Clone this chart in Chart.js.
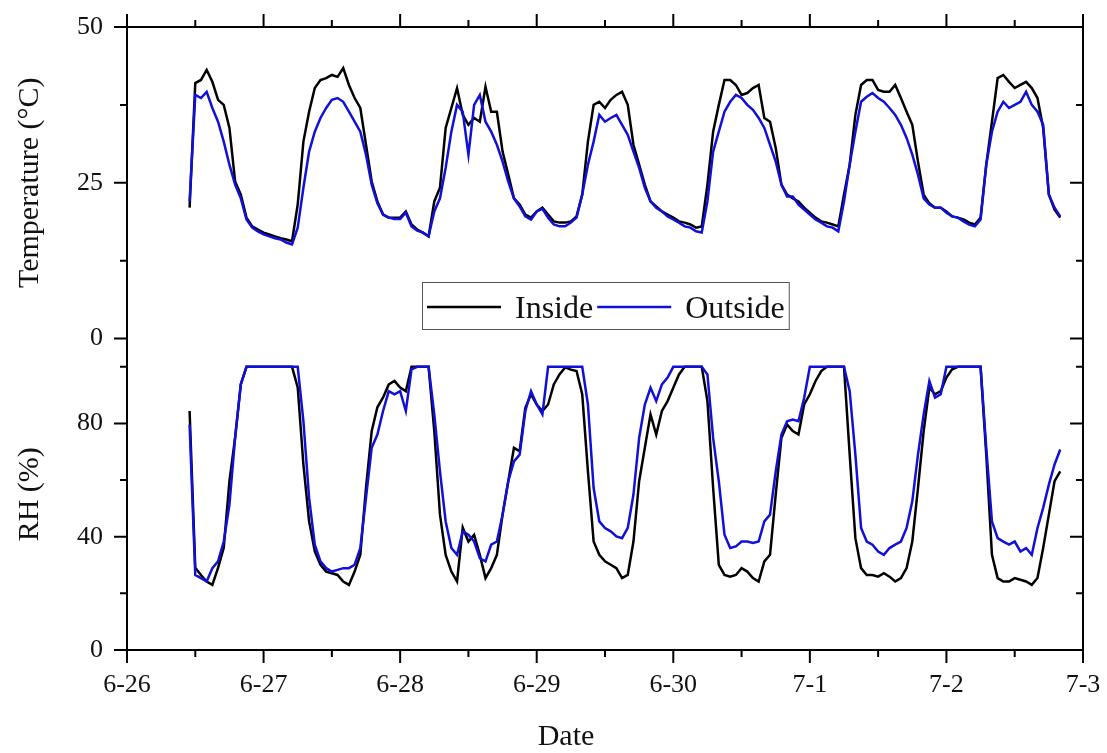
<!DOCTYPE html>
<html>
<head>
<meta charset="utf-8">
<title>Temperature and RH, inside vs outside</title>
<script src="https://cdn.jsdelivr.net/npm/chart.js@4.4.0/dist/chart.umd.min.js"></script>
<style>
  html, body { margin: 0; padding: 0; background: #fff; }
  canvas { display: block; }
</style>
</head>
<body>
<canvas id="chart" width="1107" height="753"></canvas>
<script>
// x is hours since 6-26 00:00, one reading per hour starting 11:00
const firstHour = 11;
const dayLabels = ["6-26", "6-27", "6-28", "6-29", "6-30", "7-1", "7-2", "7-3"];
const tempTicks = [0, 25, 50];
const rhTicks = [0, 40, 80];

const tempInside = [
  21.0, 41.0, 41.5, 43.1, 41.2, 38.3, 37.5, 33.8, 25.2, 23.1, 19.4, 18.0, 17.5,             // 6-26
  17.0, 16.7, 16.4, 16.1, 15.9, 15.6, 21.5, 31.6, 36.4, 40.2, 41.5, 41.8,                   // 6-27
  42.3, 42.0, 43.4, 40.7, 38.6, 37.0, 31.1, 25.2, 22.0, 19.9, 19.4, 19.4,
  19.4, 20.4, 18.3, 17.5, 17.0, 16.4, 22.0, 24.2, 33.8, 37.0, 40.2, 35.9,                   // 6-28
  34.3, 35.4, 34.8, 40.4, 36.4, 36.4, 30.0, 26.3, 22.5, 21.5, 19.9, 19.4,
  20.4, 21.0, 19.9, 18.8, 18.6, 18.6, 18.8, 19.6, 23.1, 31.6, 37.5, 38.0,                   // 6-29
  37.0, 38.3, 39.1, 39.6, 37.5, 31.1, 27.9, 24.7, 22.0, 21.2, 20.4, 19.9,
  19.4, 18.8, 18.6, 18.3, 17.8, 18.0, 24.7, 33.2, 37.5, 41.5, 41.5, 40.7,                   // 6-30
  39.1, 39.4, 40.2, 40.7, 35.4, 34.8, 30.6, 24.7, 23.1, 22.5, 22.0, 21.0,
  20.2, 19.4, 18.8, 18.6, 18.3, 18.0, 23.1, 27.9, 35.9, 40.7, 41.5, 41.5,                   // 7-1
  39.9, 39.6, 39.6, 40.7, 38.6, 36.4, 34.3, 28.4, 23.1, 21.7, 21.0, 21.0,
  20.4, 19.6, 19.4, 19.1, 18.6, 18.3, 19.4, 27.9, 34.8, 41.8, 42.3, 41.2,                   // 7-2
  40.2, 40.7, 41.2, 40.2, 38.6, 33.8, 23.1, 20.7, 19.4
];
const tempOutside = [
  22.0, 39.1, 38.6, 39.6, 37.0, 34.8, 31.6, 27.9, 24.7, 22.5, 19.1, 17.8, 17.2,
  16.7, 16.4, 16.1, 15.9, 15.4, 15.1, 17.8, 24.2, 30.0, 33.2, 35.4, 37.0,
  38.3, 38.6, 38.0, 36.4, 34.8, 33.2, 29.5, 24.7, 21.7, 19.9, 19.4, 19.2,
  19.2, 20.2, 18.0, 17.3, 17.0, 16.4, 20.4, 22.5, 27.4, 33.2, 37.5, 36.4,
  29.5, 37.5, 39.1, 34.8, 33.2, 31.1, 28.4, 25.2, 22.5, 21.2, 19.6, 19.1,
  20.4, 20.8, 19.4, 18.3, 18.0, 18.0, 18.6, 19.4, 23.1, 27.9, 31.6, 35.9,
  34.8, 35.4, 35.9, 34.3, 32.7, 30.0, 27.4, 24.2, 22.0, 21.0, 20.4, 19.6,
  19.1, 18.6, 18.0, 17.8, 17.2, 17.0, 22.0, 30.0, 33.2, 36.4, 38.0, 39.1,
  38.6, 37.5, 36.7, 35.4, 33.8, 31.1, 28.4, 24.7, 22.8, 22.8, 21.5, 20.7,
  19.9, 19.1, 18.6, 18.0, 17.8, 17.2, 22.0, 27.9, 33.2, 38.0, 38.8, 39.4,
  38.6, 38.0, 37.0, 35.9, 34.3, 32.2, 29.5, 26.3, 22.5, 21.5, 21.0, 21.0,
  20.2, 19.6, 19.4, 18.8, 18.3, 18.0, 19.1, 27.9, 33.2, 36.4, 38.0, 37.0,
  37.5, 38.0, 39.6, 37.5, 36.4, 34.3, 23.1, 21.0, 19.6
];
const rhInside = [
  84.4, 29.0, 26.5, 24.2, 23.0, 29.0, 36.1, 59.6, 75.0, 93.8, 100, 100, 100,
  100, 100, 100, 100, 100, 100, 92.7, 65.5, 45.4, 34.8, 30.1, 27.7,
  27.1, 26.5, 24.2, 23.0, 27.7, 33.6, 57.3, 77.3, 85.7, 89.2, 93.8, 95.0,
  92.7, 91.4, 100, 100, 100, 100, 77.3, 47.8, 33.6, 27.7, 24.2, 43.2,
  38.3, 40.7, 33.6, 25.4, 28.9, 33.6, 47.8, 59.6, 71.4, 70.2, 85.5, 90.3,
  86.7, 84.4, 86.7, 93.8, 97.3, 99.8, 99.0, 98.5, 90.3, 63.1, 38.3, 33.6,
  31.3, 30.1, 28.9, 25.4, 26.5, 38.3, 59.6, 71.4, 83.2, 76.1, 84.4, 87.9,
  92.6, 97.3, 100, 100, 100, 100, 87.9, 57.3, 30.1, 26.5, 25.9, 26.5,
  28.9, 27.7, 25.4, 24.2, 31.3, 33.6, 54.9, 74.9, 79.6, 77.3, 76.1, 86.7,
  90.3, 95.0, 98.5, 100, 100, 100, 100, 69.0, 39.5, 28.9, 26.5, 26.5,
  25.9, 27.1, 25.9, 24.2, 25.4, 28.9, 38.3, 57.2, 77.3, 92.6, 90.3, 91.4,
  96.2, 99.1, 100, 100, 100, 100, 100, 69.0, 33.6, 25.4, 24.2, 24.2,
  25.4, 24.8, 24.2, 23.0, 25.4, 36.0, 47.8, 59.6, 63.1
];
const rhOutside = [
  79.6, 26.5, 25.4, 24.2, 28.9, 31.3, 38.3, 51.3, 74.9, 93.8, 100, 100, 100,
  100, 100, 100, 100, 100, 100, 100, 80.8, 53.7, 37.2, 31.3, 28.9,
  27.7, 28.3, 28.9, 28.9, 30.1, 36.0, 53.7, 71.4, 76.1, 84.4, 91.4, 90.3,
  91.4, 84.4, 99.1, 100, 100, 100, 83.2, 63.1, 45.4, 36.0, 33.6, 41.9,
  40.7, 38.3, 32.4, 31.3, 37.2, 38.3, 47.8, 59.6, 66.6, 69.0, 84.4, 91.4,
  86.7, 83.2, 100, 100, 100, 100, 100, 100, 100, 86.7, 57.2, 45.4,
  43.1, 41.9, 40.1, 39.5, 43.1, 54.9, 74.9, 86.7, 92.6, 87.9, 93.8, 96.2,
  100, 100, 100, 100, 100, 100, 97.3, 74.9, 59.6, 40.7, 36.0, 36.6,
  38.3, 38.3, 37.8, 38.3, 45.4, 47.8, 63.1, 76.1, 80.8, 81.4, 80.8, 89.1,
  100, 100, 100, 100, 100, 100, 100, 91.4, 69.0, 43.1, 38.3, 37.2,
  34.8, 33.6, 36.0, 37.2, 38.3, 43.1, 52.5, 69.0, 83.2, 95.0, 89.1, 90.3,
  100, 100, 100, 100, 100, 100, 100, 71.4, 45.4, 39.5, 38.3, 37.2,
  38.3, 34.8, 36.0, 33.6, 43.1, 50.2, 58.4, 65.5, 70.8
];

const hours = tempInside.map((_, i) => firstHour + i);
const pts = arr => hours.map((h, i) => ({ x: h, y: arr[i] }));

const FONT = "'Liberation Serif', 'Times New Roman', serif";
const INK = "#111";
const BLUE = "#1010d8";

// frame on all four sides, outward ticks left/bottom/top, inward on the right
const frameTicks = {
  id: "frameTicks",
  afterDatasetsDraw(chart) {
    const { ctx, chartArea: a, scales } = chart;
    const big = 13, small = 7;
    ctx.save();
    ctx.strokeStyle = "#000";
    ctx.lineWidth = 2;
    ctx.strokeRect(a.left, a.top, a.right - a.left, a.bottom - a.top);
    ctx.beginPath();
    const vTick = (px, len) => {
      ctx.moveTo(px, a.bottom); ctx.lineTo(px, a.bottom + len);
      ctx.moveTo(px, a.top); ctx.lineTo(px, a.top - len);
    };
    const hTick = (py, len) => {
      ctx.moveTo(a.left, py); ctx.lineTo(a.left - len, py);
      ctx.moveTo(a.right, py); ctx.lineTo(a.right - len, py);
    };
    dayLabels.forEach((_, i) => {
      vTick(scales.x.getPixelForValue(i * 24), big);
      if (i < dayLabels.length - 1) vTick(scales.x.getPixelForValue(i * 24 + 12), small);
    });
    [[scales.yT, tempTicks], [scales.yRH, rhTicks]].forEach(([s, list]) => {
      list.forEach(v => hTick(s.getPixelForValue(v), big));
      const step = list[1] - list[0];
      for (let v = step / 2; v < s.max; v += step) hTick(s.getPixelForValue(v), small);
    });
    ctx.stroke();
    ctx.restore();
  }
};

// boxed one-row legend inside the temperature panel, and the x title
// (Origin centres "Date" on the page rather than the plot, so it sits left of centre)
const boxLegend = {
  id: "boxLegend",
  afterDraw(chart) {
    const { ctx, chartArea: a } = chart;
    const items = chart.data.datasets.slice(0, 2);
    ctx.save();
    ctx.font = "32px " + FONT;
    ctx.textBaseline = "alphabetic";
    const lineLen = 74, y = a.top + 280;
    let x = 427;
    const left = 422;
    items.forEach(ds => {
      ctx.strokeStyle = ds.borderColor;
      ctx.lineWidth = 2.5;
      ctx.beginPath();
      ctx.moveTo(x, y); ctx.lineTo(x + lineLen, y);
      ctx.stroke();
      x += lineLen + 14;
      ctx.fillStyle = INK;
      ctx.fillText(ds.label, x, y + 11);
      x += ctx.measureText(ds.label).width + 4;
    });
    ctx.strokeStyle = "#555";
    ctx.lineWidth = 1;
    ctx.strokeRect(left + 0.5, y - 24.5, x - left, 47);

    ctx.font = "30px " + FONT;
    ctx.textAlign = "center";
    ctx.textBaseline = "middle";
    ctx.fillStyle = INK;
    ctx.fillText(chart.options.scales.x.title.text, 566, 737);
    ctx.restore();
  }
};

const tickFont = { family: FONT, size: 26 };
const titleFont = { family: FONT, size: 30 };

// keep label overhang from pushing the plot area in
const noYPad = s => { s.width = 127; s.paddingTop = 0; s.paddingBottom = 0; };

new Chart(document.getElementById("chart"), {
  type: "line",
  data: {
    datasets: [
      { label: "Inside", data: pts(tempInside), yAxisID: "yT", borderColor: "#000", order: 1 },
      { label: "Outside", data: pts(tempOutside), yAxisID: "yT", borderColor: BLUE, order: 0 },
      { label: "Inside RH", data: pts(rhInside), yAxisID: "yRH", borderColor: "#000", order: 1 },
      { label: "Outside RH", data: pts(rhOutside), yAxisID: "yRH", borderColor: BLUE, order: 0 },
    ],
  },
  options: {
    responsive: false,
    animation: false,
    devicePixelRatio: 1,
    datasets: {
      line: { borderWidth: 2.5, pointRadius: 0, tension: 0, fill: false },
    },
    layout: { padding: { top: 27, right: 24, bottom: 0, left: 0 } },
    plugins: {
      legend: { display: false },
      tooltip: { enabled: false },
    },
    scales: {
      x: {
        type: "linear",
        position: "bottom",
        min: 0,
        max: 168,
        grid: { display: false, drawTicks: false },
        border: { display: false },
        afterBuildTicks: s => { s.ticks = dayLabels.map((_, i) => ({ value: i * 24 })); },
        ticks: {
          padding: 20,
          maxRotation: 0,
          autoSkip: false,
          font: tickFont,
          color: INK,
          callback: v => dayLabels[Math.round(v / 24)],
        },
        title: { display: false, text: "Date", font: titleFont, color: INK },
        afterFit: s => { s.height = 103; s.paddingLeft = 0; s.paddingRight = 0; },
      },
      yRH: {
        type: "linear",
        position: "left",
        stack: "panels",
        stackWeight: 1,
        min: 0,
        max: 110,
        grid: { display: false, drawTicks: false },
        border: { display: false },
        afterBuildTicks: s => { s.ticks = rhTicks.map(v => ({ value: v })); },
        ticks: { padding: 24, font: tickFont, color: INK },
        title: { display: true, text: "RH (%)", font: titleFont, color: INK, padding: { top: 12, bottom: 0 } },
        afterFit: noYPad,
      },
      yT: {
        type: "linear",
        position: "left",
        stack: "panels",
        stackWeight: 1,
        min: 0,
        max: 50,
        grid: { display: false, drawTicks: false },
        border: { display: false },
        afterBuildTicks: s => { s.ticks = tempTicks.map(v => ({ value: v })); },
        ticks: { padding: 24, font: tickFont, color: INK },
        title: { display: true, text: "Temperature (°C)", font: titleFont, color: INK, padding: { top: 12, bottom: 0 } },
        afterFit: noYPad,
      },
    },
  },
  plugins: [frameTicks, boxLegend],
});
</script>
</body>
</html>
